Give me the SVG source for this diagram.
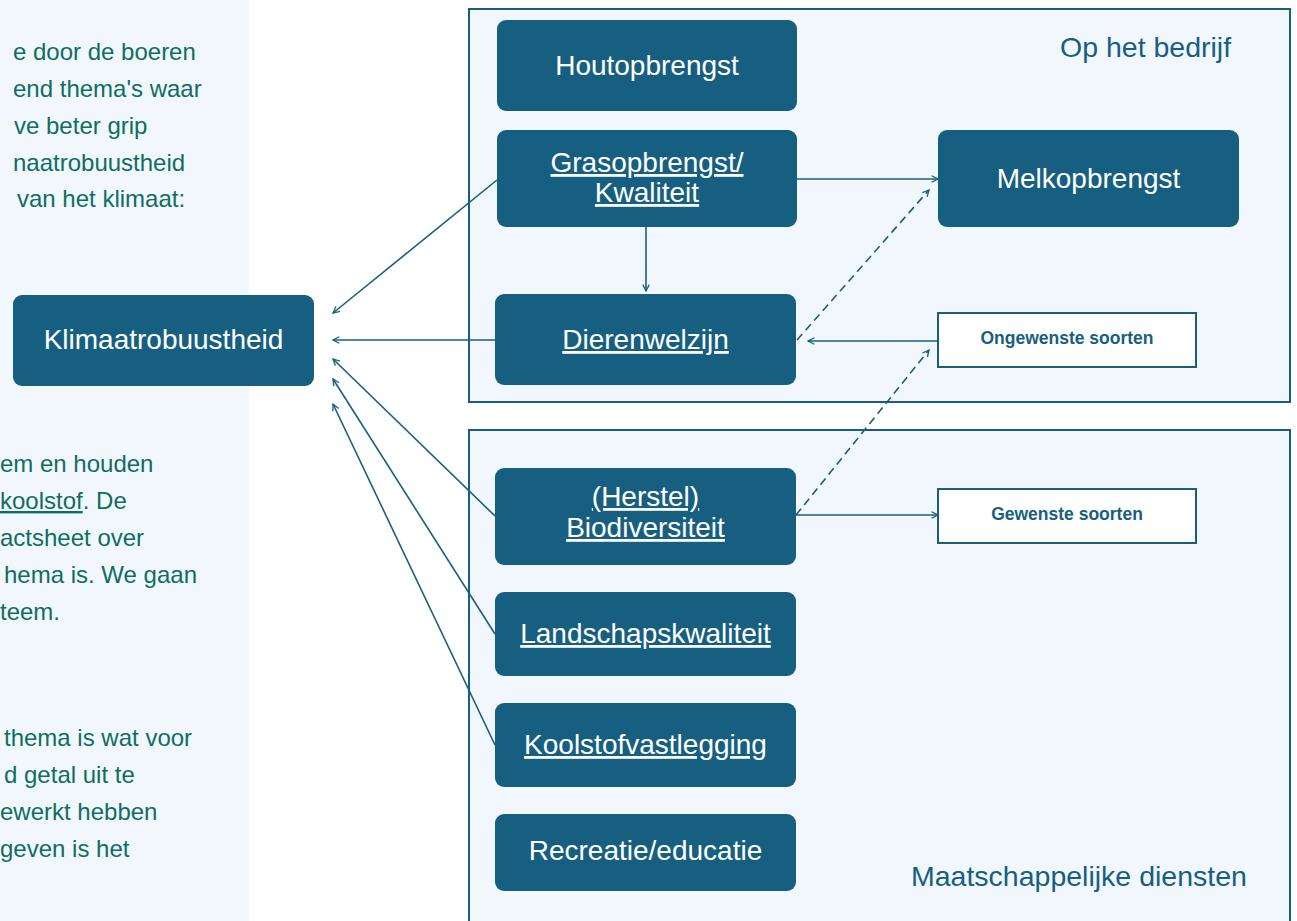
<svg xmlns="http://www.w3.org/2000/svg" width="1297" height="921" viewBox="0 0 1297 921">
<style>
.node{fill:#175f80;}
.nt{fill:#ffffff;font-family:"Liberation Sans",Arial,sans-serif;font-size:28px;text-anchor:middle;}
.u{text-decoration:underline;}
.box{fill:#ffffff;stroke:#175f80;stroke-width:2;}
.bt{fill:#175f80;font-family:"Liberation Sans",Arial,sans-serif;font-size:17.5px;font-weight:bold;text-anchor:middle;}
.cont{fill:#f2f7fe;stroke:#175f80;stroke-width:2;}
.ct{fill:#175f80;font-family:"Liberation Sans",Arial,sans-serif;font-size:28.5px;}
.side{fill:#0f6e62;font-family:"Liberation Sans",Arial,sans-serif;font-size:24px;}
.c{stroke:#175f80;stroke-width:1.6;fill:none;marker-end:url(#ah);}
.d{stroke-dasharray:8,5;}
</style>
<defs>
<marker id="ah" viewBox="0 0 10 10" refX="9" refY="5" markerWidth="8" markerHeight="8" markerUnits="userSpaceOnUse" orient="auto">
<path d="M1,1 L9,5 L1,9" fill="none" stroke="#175f80" stroke-width="1.6"/>
</marker>
</defs>
<rect x="0" y="0" width="1297" height="921" fill="#ffffff"/>
<g id="side-panel">
<rect x="0" y="0" width="249" height="921" fill="#f2f7fe"/>
<text class="side" x="13" y="60">e door de boeren</text>
<text class="side" x="13" y="97">end thema's waar</text>
<text class="side" x="14" y="134">ve beter grip</text>
<text class="side" x="13" y="171">naatrobuustheid</text>
<text class="side" x="17" y="207">van het klimaat:</text>
<text class="side" x="0" y="472">em en houden</text>
<text class="side" x="0" y="509"><tspan text-decoration="underline">koolstof</tspan>. De</text>
<text class="side" x="0" y="546">actsheet over</text>
<text class="side" x="4" y="583">hema is. We gaan</text>
<text class="side" x="0" y="620">teem.</text>
<text class="side" x="4" y="746">thema is wat voor</text>
<text class="side" x="4" y="783">d getal uit te</text>
<text class="side" x="0" y="820">ewerkt hebben</text>
<text class="side" x="0" y="857">geven is het</text>
</g>
<g id="container-bedrijf">
<rect class="cont" x="469" y="9" width="821" height="393"/>
<text class="ct" x="1060" y="57">Op het bedrijf</text>
</g>
<g id="container-maatschappij">
<rect class="cont" x="469" y="430" width="821" height="520"/>
<text class="ct" x="911" y="886">Maatschappelijke diensten</text>
</g>
<g id="connectors">
<line class="c" x1="497" y1="180" x2="333" y2="313"/>
<line class="c" x1="495" y1="340" x2="333" y2="340"/>
<line class="c" x1="495" y1="516" x2="333" y2="359"/>
<line class="c" x1="495" y1="634" x2="333" y2="379"/>
<line class="c" x1="495" y1="745" x2="333" y2="404"/>
<line class="c" x1="797" y1="179" x2="938" y2="179"/>
<line class="c" x1="646" y1="227" x2="646" y2="291"/>
<line class="c d" x1="797" y1="340" x2="929" y2="190"/>
<line class="c" x1="938" y1="341" x2="808" y2="341"/>
<line class="c d" x1="796" y1="515" x2="929" y2="350"/>
<line class="c" x1="796" y1="515" x2="938" y2="515"/>
</g>
<g id="klimaatrobuustheid">
<rect class="node" x="13" y="295" width="301" height="91" rx="9"/>
<text class="nt" x="163.5" y="349">Klimaatrobuustheid</text>
</g>
<g id="houtopbrengst">
<rect class="node" x="497" y="20" width="300" height="91" rx="9"/>
<text class="nt" x="647" y="75">Houtopbrengst</text>
</g>
<g id="grasopbrengst">
<rect class="node" x="497" y="130" width="300" height="97" rx="9"/>
<text class="nt u" x="647" y="172">Grasopbrengst/</text>
<text class="nt u" x="647" y="202">Kwaliteit</text>
</g>
<g id="melkopbrengst">
<rect class="node" x="938" y="130" width="301" height="97" rx="9"/>
<text class="nt" x="1088.5" y="188">Melkopbrengst</text>
</g>
<g id="dierenwelzijn">
<rect class="node" x="495" y="294" width="301" height="91" rx="9"/>
<text class="nt u" x="645.5" y="349">Dierenwelzijn</text>
</g>
<g id="ongewenste-soorten">
<rect class="box" x="938" y="313" width="258" height="54"/>
<text class="bt" x="1067" y="344">Ongewenste soorten</text>
</g>
<g id="biodiversiteit">
<rect class="node" x="495" y="468" width="301" height="97" rx="9"/>
<text class="nt u" x="645.5" y="506">(Herstel)</text>
<text class="nt u" x="645.5" y="537">Biodiversiteit</text>
</g>
<g id="gewenste-soorten">
<rect class="box" x="938" y="489" width="258" height="54"/>
<text class="bt" x="1067" y="520">Gewenste soorten</text>
</g>
<g id="landschapskwaliteit">
<rect class="node" x="495" y="592" width="301" height="84" rx="9"/>
<text class="nt u" x="645.5" y="643">Landschapskwaliteit</text>
</g>
<g id="koolstofvastlegging">
<rect class="node" x="495" y="703" width="301" height="84" rx="9"/>
<text class="nt u" x="645.5" y="754">Koolstofvastlegging</text>
</g>
<g id="recreatie">
<rect class="node" x="495" y="814" width="301" height="77" rx="9"/>
<text class="nt" x="645.5" y="860">Recreatie/educatie</text>
</g>
</svg>
